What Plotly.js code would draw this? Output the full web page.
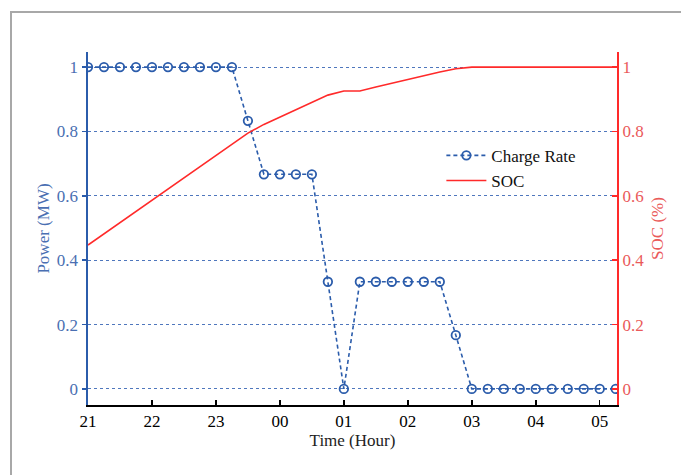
<!DOCTYPE html>
<html>
<head>
<meta charset="utf-8">
<script src="https://cdn.plot.ly/plotly-3.0.1.min.js"></script>
<style>
  html, body { margin: 0; padding: 0; background: #fff; }
  #frame { position: absolute; left: 10px; top: 11px; width: 700px; height: 500px;
           border-left: 2px solid #a8a8a8; border-top: 2px solid #a8a8a8; }
  #chart { position: absolute; left: 0; top: 0; width: 681px; height: 475px; }
</style>
</head>
<body>
<div id="frame"></div>
<div id="chart"></div>
<script>
// Time in hours after 21:00, sampled every 15 minutes
const timeHours = [0,0.25,0.5,0.75,1,1.25,1.5,1.75,2,2.25,2.5,2.75,3,3.25,3.5,3.75,4,4.25,4.5,4.75,5,5.25,5.5,5.75,6,6.25,6.5,6.75,7,7.25,7.5,7.75,8,8.25];
const chargeRate = [1,1,1,1,1,1,1,1,1,1,0.833,0.667,0.667,0.667,0.667,0.333,0,0.333,0.333,0.333,0.333,0.333,0.333,0.167,0,0,0,0,0,0,0,0,0,0];
const soc = [0.447,0.482,0.517,0.552,0.587,0.622,0.656,0.69,0.725,0.76,0.795,0.822,0.845,0.868,0.891,0.913,0.926,0.926,0.938,0.95,0.962,0.973,0.985,0.995,1,1,1,1,1,1,1,1,1,1];
const xTickVals = [0,1,2,3,4,5,6,7,8];
const xTickText = ["21","22","23","00","01","02","03","04","05"];
const yTickVals = [0,0.2,0.4,0.6,0.8,1];

const blue = "#2b5cab";
const blueText = "#4a6fb2";
const red = "#ff2a2a";
const redText = "#ea5a5a";
const serif = "Liberation Serif, Times New Roman, serif";

const traces = [
  {
    x: timeHours, y: chargeRate, name: "Charge Rate", type: "scatter", mode: "lines+markers",
    line: {color: blue, width: 1.6, dash: "4px,3px"},
    marker: {symbol: "circle-open", size: 8.5, color: blue, line: {width: 1.8, color: blue}},
    yaxis: "y"
  },
  {
    x: timeHours, y: soc, name: "SOC", type: "scatter", mode: "lines",
    line: {color: red, width: 1.6},
    yaxis: "y2"
  }
];

const layout = {
  width: 681, height: 475,
  margin: {l: 88, r: 64, t: 52, b: 70},
  paper_bgcolor: "rgba(0,0,0,0)",
  plot_bgcolor: "rgba(0,0,0,0)",
  font: {family: serif, size: 17, color: "#000"},
  showlegend: true,
  legend: {
    x: 0.668, y: 0.757, xanchor: "left", yanchor: "top",
    bgcolor: "rgba(0,0,0,0)", borderwidth: 0,
    font: {family: serif, size: 17, color: "#111"},
    itemwidth: 40,
    tracegroupgap: 0
  },
  xaxis: {
    range: [0, 8.27],
    tickvals: xTickVals, ticktext: xTickText,
    ticks: "inside", ticklen: 5, tickwidth: 1.5, tickcolor: "#000",
    showline: true, linecolor: "#000", linewidth: 2,
    showgrid: false, zeroline: false,
    tickfont: {family: serif, size: 17, color: "#000"},
    title: {text: "Time (Hour)", font: {family: serif, size: 17, color: "#222"}, standoff: 2}
  },
  yaxis: {
    range: [-0.05, 1.047],
    tickvals: yTickVals,
    ticks: "outside", ticklen: 4, tickwidth: 1.5, tickcolor: blue,
    showline: true, linecolor: blue, linewidth: 2.5,
    showgrid: true, gridcolor: "#4f77bd", gridwidth: 1, griddash: "dot",
    zeroline: false,
    tickfont: {family: serif, size: 17, color: blueText},
    title: {text: "Power (MW)", font: {family: serif, size: 17, color: blueText}, standoff: 3}
  },
  yaxis2: {
    range: [-0.05, 1.047],
    overlaying: "y", side: "right",
    tickvals: yTickVals,
    ticks: "inside", ticklen: 5, tickwidth: 1.5, tickcolor: red,
    showline: true, linecolor: red, linewidth: 2,
    showgrid: false, zeroline: false,
    tickfont: {family: serif, size: 17, color: redText},
    title: {text: "SOC (%)", font: {family: serif, size: 17, color: redText}, standoff: 8}
  }
};

Plotly.newPlot("chart", traces, layout, {displayModeBar: false, staticPlot: true});
</script>
</body>
</html>
